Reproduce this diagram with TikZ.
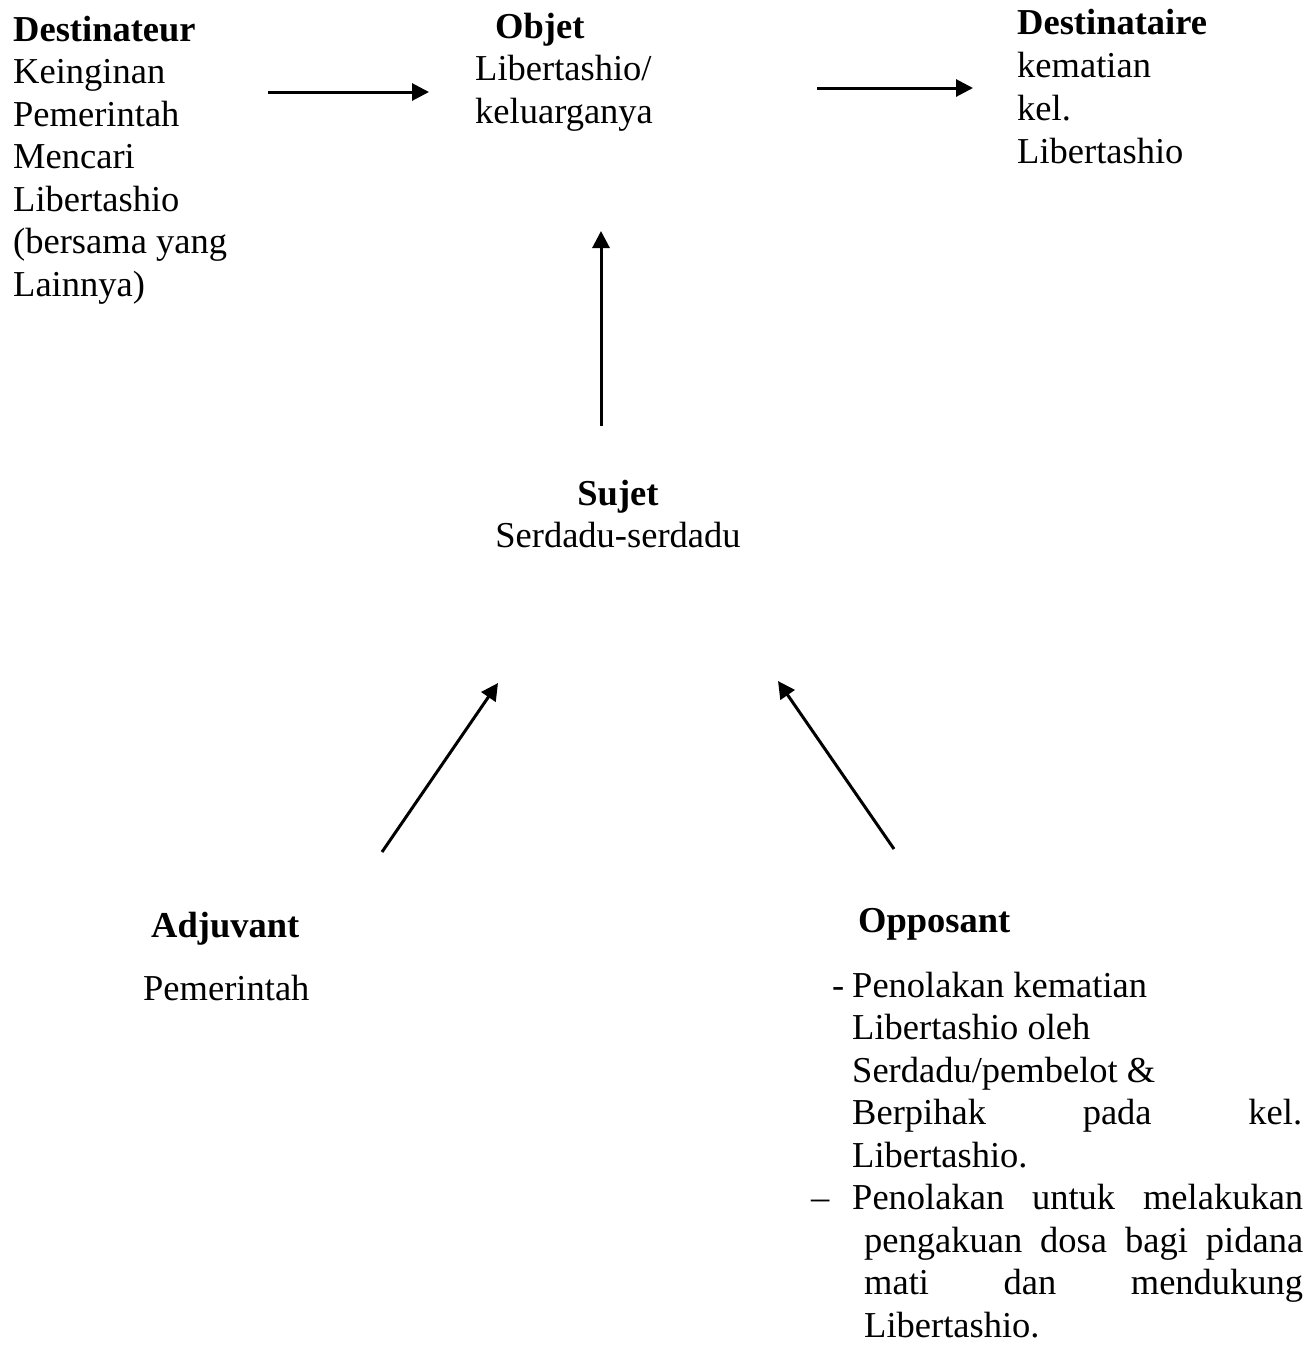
\documentclass[tikz,border=0pt]{standalone}
\usepackage{fontspec}
\setmainfont{Liberation Serif}
\usetikzlibrary{arrows.meta}
\tikzset{
  txt/.style={anchor=base west, inner sep=0pt, font=\fontsize{36.5}{43}\selectfont},
  ctxt/.style={anchor=base, inner sep=0pt, font=\fontsize{36.5}{43}\selectfont},
  hd/.style={txt, font=\fontsize{36.5}{43}\selectfont\bfseries},
  chd/.style={ctxt, font=\fontsize{36.5}{43}\selectfont\bfseries},
  arr/.style={line width=3pt, -{Triangle[length=17pt,width=17pt]}}
}
\begin{document}
\begin{tikzpicture}[x=1pt,y=-1pt]
\useasboundingbox[fill=white] (0,0) rectangle (1316,1345);
% Destinateur
\node[hd]  (d0) at (13,41)    {Destinateur};
\node[txt] (d1) at (13,83.5)  {Keinginan};
\node[txt] (d2) at (13,126)   {Pemerintah};
\node[txt] (d3) at (13,168.5) {Mencari};
\node[txt] (d4) at (13,211)   {Libertashio};
\node[txt] (d5) at (13,253.5) {(bersama yang};
\node[txt] (d6) at (13,296)   {Lainnya)};
% Objet
\node[hd]  (o0) at (495,38)   {Objet};
\node[txt] (o1) at (475,80.5) {Libertashio/};
\node[txt] (o2) at (475,123)  {keluarganya};
% Destinataire
\node[hd]  (t0) at (1017,34)  {Destinataire};
\node[txt] (t1) at (1017,77)  {kematian};
\node[txt] (t2) at (1017,120) {kel.};
\node[txt] (t3) at (1017,163) {Libertashio};
% Sujet
\node[chd]  (s0) at (618,505) {Sujet};
\node[ctxt] (s1) at (618,547) {Serdadu-serdadu};
% Adjuvant
\node[hd]  (a0) at (151,937)  {Adjuvant};
\node[txt] (a1) at (143,1000) {Pemerintah};
% Opposant
\node[hd]  (p0) at (858,932)  {Opposant};
\node[txt] (pd1) at (832,997) {-};
\node[txt] (p1) at (852,997)    {Penolakan kematian};
\node[txt] (p2) at (852,1039.5) {Libertashio oleh};
\node[txt] (p3) at (852,1082)   {Serdadu/pembelot \&};
\node[txt] (p4) at (852,1124.5) {\makebox[450pt][s]{Berpihak pada kel.}};
\node[txt] (p5) at (852,1167)   {Libertashio.};
\node[txt] (pd2) at (811,1209.5) {--};
\node[txt] (p6) at (852,1209.5) {\makebox[451pt][s]{Penolakan untuk melakukan}};
\node[txt] (p7) at (864,1252)   {\makebox[439pt][s]{pengakuan dosa bagi pidana}};
\node[txt] (p8) at (864,1294.5) {\makebox[439pt][s]{mati dan mendukung}};
\node[txt] (p9) at (864,1337)   {Libertashio.};
% arrow end points
\coordinate (e1s) at (268,92);  \coordinate (e1e) at (429,92);
\coordinate (e2s) at (817,88);  \coordinate (e2e) at (973,88);
\coordinate (e3s) at (601,426); \coordinate (e3e) at (601,231);
\coordinate (e4s) at (382,852); \coordinate (e4e) at (498,683);
\coordinate (e5s) at (894,849); \coordinate (e5e) at (778,681);
\draw[arr] (e1s) -- (e1e);
\draw[arr] (e2s) -- (e2e);
\draw[arr] (e3s) -- (e3e);
\draw[arr] (e4s) -- (e4e);
\draw[arr] (e5s) -- (e5e);
\end{tikzpicture}
\end{document}
